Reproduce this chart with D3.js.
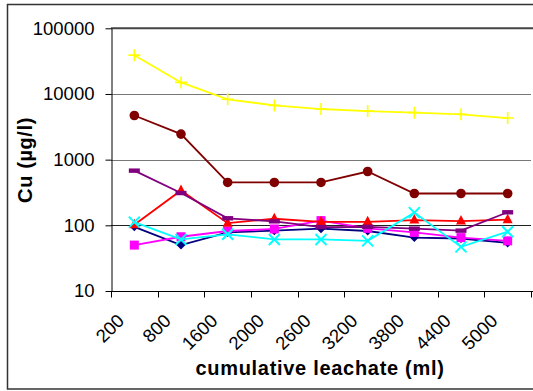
<!DOCTYPE html>
<html>
<head>
<meta charset="utf-8">
<script src="https://cdn.jsdelivr.net/npm/d3@7"></script>
<style>
  html, body { margin: 0; padding: 0; background: #fff; }
  svg { display: block; }
  text { font-family: "Liberation Sans", Arial, sans-serif; }
</style>
</head>
<body>
<svg id="chart" width="533" height="391"></svg>
<script>
// Cumulative leachate volumes (ml) used as categories
const categories = ["200", "800", "1600", "2000", "2600", "3200", "3800", "4400", "5000"];
const yTicks = [10, 100, 1000, 10000, 100000];

// Cu concentration (µg/l) per column
const seriesYellow  = [39000, 15000, 8300, 6700, 5900, 5500, 5200, 4900, 4300];
const seriesMaroon  = [4700, 2450, 450, 450, 450, 660, 305, 305, 305];
const seriesNavy    = [95, 50, 78, 83, 89, 82, 65, 63, 54];
const seriesMagenta = [50, 67, 82, 88, 118, 90, 78, 65, 58];
const seriesRed     = [102, 340, 108, 126, 113, 113, 120, 116, 122];
const seriesPurple  = [680, 310, 128, 115, 94, 95, 89, 83, 158];
const seriesCyan    = [112, 61, 73, 61, 61, 58, 156, 47, 80];

const series = [
  { values: seriesYellow,  color: "#FFFF00", marker: "plus" },
  { values: seriesMaroon,  color: "#800000", marker: "circle" },
  { values: seriesNavy,    color: "#000080", marker: "diamond" },
  { values: seriesMagenta, color: "#FF00FF", marker: "square" },
  { values: seriesRed,     color: "#FF0000", marker: "triangle" },
  { values: seriesPurple,  color: "#800080", marker: "dash" },
  { values: seriesCyan,    color: "#00FFFF", marker: "cross" }
];

const svg = d3.select("#chart");
const plotLeft = 111, plotRight = 531, plotTop = 28.3, plotBottom = 291;

const x = d3.scaleBand().domain(categories).range([plotLeft, plotRight]).padding(0);
const cx = c => x(c) + x.bandwidth() / 2;
const y = d3.scaleLog().domain([10, 100000]).range([plotBottom, plotTop]);

// Outer chart frame
svg.append("rect")
  .attr("x", 7.5).attr("y", 4.5)
  .attr("width", 540).attr("height", 384.5)
  .attr("fill", "none").attr("stroke", "#333").attr("stroke-width", 1.5);

// Horizontal gridlines
svg.append("g").selectAll("line")
  .data([100, 1000, 10000])
  .join("line")
  .attr("x1", plotLeft).attr("x2", plotRight)
  .attr("y1", d => Math.round(y(d)) + 0.5).attr("y2", d => Math.round(y(d)) + 0.5)
  .attr("stroke", d => d === 100 ? "#222" : "#777")
  .attr("stroke-width", 1);

// Plot area top border
svg.append("line")
  .attr("x1", plotLeft).attr("x2", plotRight + 2)
  .attr("y1", plotTop).attr("y2", plotTop)
  .attr("stroke", "#444").attr("stroke-width", 2);

// Y axis
const yAxis = svg.append("g")
  .attr("transform", `translate(${plotLeft + 0.5},0)`)
  .call(d3.axisLeft(y).tickValues(yTicks).tickFormat(d3.format("d")).tickSize(6).tickSizeOuter(0));
yAxis.select(".domain").attr("stroke", "#000");
yAxis.selectAll(".tick line").attr("stroke", "#000");
yAxis.selectAll(".tick text")
  .attr("font-size", 18.5).attr("fill", "#000")
  .attr("font-family", "Liberation Sans, Arial, sans-serif")
  .attr("x", -17);

// X axis: baseline with ticks between categories
const xAxis = svg.append("g")
  .attr("transform", `translate(0,${Math.round(plotBottom) + 0.5})`)
  .call(d3.axisBottom(x).tickSize(0).tickFormat(""));
xAxis.select(".domain").attr("d", `M${plotLeft},0H${plotRight + 2}`).attr("stroke", "#000");
const bounds = categories.map(c => x(c)).concat([plotRight]);
xAxis.selectAll(".bound")
  .data(bounds)
  .join("line")
  .attr("class", "bound")
  .attr("x1", d => Math.round(d) + 0.5).attr("x2", d => Math.round(d) + 0.5)
  .attr("y1", 0).attr("y2", 6)
  .attr("stroke", "#000");

// Rotated category labels
svg.append("g").selectAll("text")
  .data(categories)
  .join("text")
  .attr("transform", c => `translate(${cx(c) - 9},322) rotate(-45)`)
  .attr("text-anchor", "end")
  .attr("font-size", 18.5)
  .attr("fill", "#000")
  .text(c => c);

// Axis titles
svg.append("text")
  .attr("x", 320).attr("y", 375)
  .attr("text-anchor", "middle")
  .attr("font-size", 20).attr("font-weight", "bold")
  .attr("letter-spacing", 0.7)
  .text("cumulative leachate (ml)");

svg.append("text")
  .attr("transform", "translate(32,160) rotate(-90)")
  .attr("text-anchor", "middle")
  .attr("font-size", 20).attr("font-weight", "bold")
  .attr("letter-spacing", 0.6)
  .text("Cu (µg/l)");

// Series lines and markers
const line = d3.line()
  .x((d, i) => cx(categories[i]))
  .y(d => y(d));

function drawMarker(g, kind, color) {
  switch (kind) {
    case "plus":
      g.append("path").attr("d", "M-6,0H6M0,-6V6")
        .attr("stroke", color).attr("stroke-width", 1.6).attr("fill", "none");
      break;
    case "circle":
      g.append("circle").attr("r", 4.8).attr("fill", color);
      break;
    case "diamond":
      g.append("path").attr("d", "M0,-4.5L4.5,0L0,4.5L-4.5,0Z").attr("fill", color);
      break;
    case "square":
      g.append("rect").attr("x", -4.5).attr("y", -4.5).attr("width", 9).attr("height", 9).attr("fill", color);
      break;
    case "triangle":
      g.append("path").attr("d", "M0,-6L5,3.5H-5Z").attr("fill", color);
      break;
    case "dash":
      g.append("rect").attr("x", -5.5).attr("y", -2.2).attr("width", 11).attr("height", 4.4).attr("fill", color);
      break;
    case "cross":
      g.append("path").attr("d", "M-5.5,-5.5L5.5,5.5M-5.5,5.5L5.5,-5.5")
        .attr("stroke", color).attr("stroke-width", 2).attr("fill", "none");
      break;
  }
}

series.forEach(s => {
  const g = svg.append("g");
  g.append("path")
    .datum(s.values)
    .attr("d", line)
    .attr("fill", "none")
    .attr("stroke", s.color)
    .attr("stroke-width", 1.8);
  g.selectAll("g.pt")
    .data(s.values)
    .join("g")
    .attr("class", "pt")
    .attr("transform", (d, i) => `translate(${cx(categories[i])},${y(d)})`)
    .each(function () { drawMarker(d3.select(this), s.marker, s.color); });
});
</script>
</body>
</html>
